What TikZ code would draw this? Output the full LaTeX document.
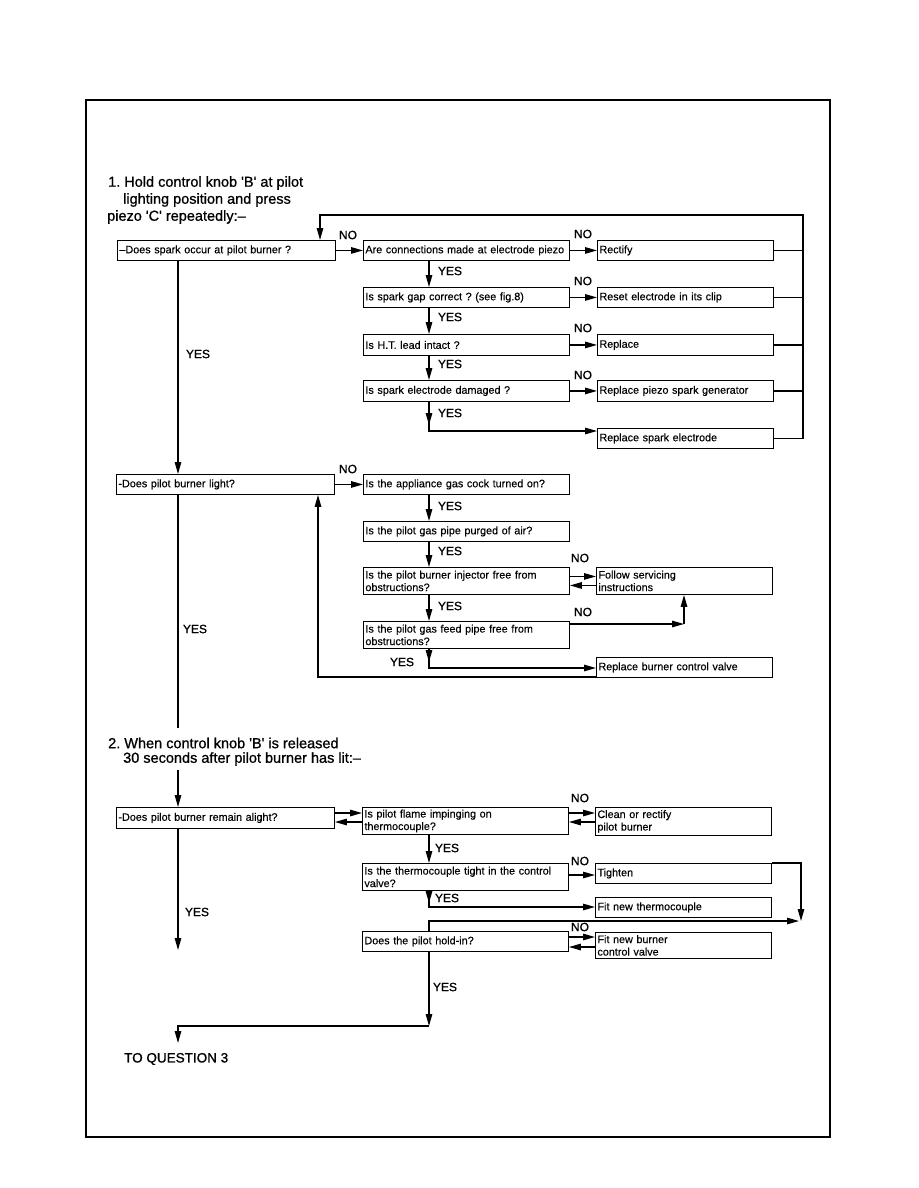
\documentclass[tikz,border=0pt]{standalone}
\usepackage{fontspec}
\setmainfont{Liberation Sans}
\newfontfamily\medfont{Liberation Sans}[FakeBold=0.9]
\newfontfamily\boxfont{Liberation Sans}[FakeBold=0.3]
\usetikzlibrary{arrows.meta}
\frenchspacing
\begin{document}
\begin{tikzpicture}[x=1pt,y=-1pt,
  box/.style={draw, line width=0.9pt, anchor=north west, inner xsep=2pt, inner ysep=0pt, align=left, font=\boxfont\fontsize{10.8}{12.5}\selectfont},
  wbox/.style={box, text width=214pt},
  mbox/.style={box, text width=202pt},
  rbox/.style={box, text width=172pt},
  conn/.style={line width=1.3pt},
  arr/.style={conn, -{Triangle[length=12pt,width=6.5pt]}},
  lab/.style={font=\medfont\fontsize{12}{14}\selectfont, inner sep=0pt},
  ttl/.style={font=\medfont\fontsize{14.5}{16}\selectfont, inner sep=0pt, anchor=west},
]
\useasboundingbox (0,0) rectangle (918,1188);
\draw[line width=1.1pt] (86,100) rectangle (830,1137);

% titles
\node[ttl] (t1a) at (108,183) {1. Hold control knob \textquotesingle B\textquotesingle{} at pilot};
\node[ttl] (t1b) at (123,200) {lighting position and press};
\node[ttl] (t1c) at (107,217) {piezo \textquotesingle C\textquotesingle{} repeatedly:\textendash};
\node[ttl] (t2a) at (108,743) {2. When control knob \textquotesingle B\textquotesingle{} is released};
\node[ttl] (t2b) at (123,759) {30 seconds after pilot burner has lit:\textendash};
\node[ttl, font=\medfont\fontsize{13.5}{15}\selectfont] (tq) at (124,1059) {TO QUESTION 3};

% boxes, part 1
\node[wbox, minimum height=20pt] (A) at (117,240) {\textendash Does spark occur at pilot burner ?};
\node[mbox, minimum height=20pt] (B1) at (363,240) {Are connections made at electrode piezo};
\node[rbox, minimum height=20pt] (R1) at (597,240) {Rectify};
\node[mbox, minimum height=20pt] (B2) at (363,287) {Is spark gap correct ? (see fig.8)};
\node[rbox, minimum height=20pt] (R2) at (597,287) {Reset electrode in its clip};
\node[mbox, minimum height=21pt] (B3) at (363,334) {Is H.T. lead intact ?};
\node[rbox, minimum height=21pt] (R3) at (597,334) {Replace};
\node[mbox, minimum height=21pt] (B4) at (363,380) {Is spark electrode damaged ?};
\node[rbox, minimum height=21pt] (R4) at (597,380) {Replace piezo spark generator};
\node[rbox, minimum height=20pt] (R5) at (597,428) {Replace spark electrode};

\node[wbox, minimum height=20pt] (C) at (116,474) {-Does pilot burner light?};
\node[mbox, minimum height=20pt] (D) at (363,474) {Is the appliance gas cock turned on?};
\node[mbox, minimum height=20pt] (E) at (363,521) {Is the pilot gas pipe purged of air?};
\node[mbox, minimum height=27pt] (F) at (363,567) {Is the pilot burner injector free from\\obstructions?};
\node[rbox, minimum height=27pt] (FS) at (596,567) {Follow servicing\\instructions};
\node[mbox, minimum height=27pt] (G) at (363,621) {Is the pilot gas feed pipe free from\\obstructions?};
\node[rbox, minimum height=20pt] (RV) at (596,657) {Replace burner control valve};

% boxes, part 2
\node[wbox, minimum height=21pt] (H) at (116,807) {-Does pilot burner remain alight?};
\node[mbox, minimum height=27pt] (I) at (362,807) {Is pilot flame impinging on\\thermocouple?};
\node[rbox, minimum height=28pt] (CR) at (595,807) {Clean or rectify\\pilot burner};
\node[mbox, minimum height=27pt] (J) at (362,863) {Is the thermocouple tight in the control\\valve?};
\node[rbox, minimum height=20pt] (T) at (595,863) {Tighten};
\node[rbox, minimum height=20pt] (FT) at (595,897) {Fit new thermocouple};
\node[mbox, minimum height=20pt] (K) at (362,931) {Does the pilot hold-in?};
\node[rbox, minimum height=26pt] (FB) at (595,932) {Fit new burner\\control valve};

% helper coordinates
\coordinate (lx) at (178,0);
\coordinate (cx) at (429,0);
\coordinate (bus) at (803,215);
\coordinate (loopA) at (320,215);

% part 1 connectors
\draw[arr] (R5.east) -| (bus) -- (loopA) -- (loopA |- A.north);
\draw[conn] (R1.east) -- (R1.east -| bus);
\draw[conn] (R2.east) -- (R2.east -| bus);
\draw[conn] (R3.east) -- (R3.east -| bus);
\draw[conn] (R4.east) -- (R4.east -| bus);

\draw[arr] (A.east) -- (B1.west);
\node[lab] (n1) at (348,235) {NO};
\draw[arr] (B1.east) -- (R1.west);
\node[lab] (n2) at (583,234) {NO};
\draw[arr] (B2.east) -- (R2.west);
\node[lab] (n3) at (583,281) {NO};
\draw[arr] (B3.east) -- (R3.west);
\node[lab] (n4) at (583,328) {NO};
\draw[arr] (B4.east) -- (R4.west);
\node[lab] (n5) at (583,375) {NO};

\draw[arr] (B1.south -| cx) -- (B2.north -| cx);
\node[lab] (y1) at (450,271) {YES};
\draw[arr] (B2.south -| cx) -- (B3.north -| cx);
\node[lab] (y2) at (450,317) {YES};
\draw[arr] (B3.south -| cx) -- (B4.north -| cx);
\node[lab] (y3) at (450,364) {YES};
\coordinate (m5) at (429,425);
\coordinate (t5) at (429,431);
\draw[arr] (B4.south -| cx) -- (m5);
\draw[arr] (B4.south -| cx) -- (t5) -- (t5 -| R5.west);
\node[lab] (y4) at (450,413) {YES};

\draw[arr] (A.south -| lx) -- (C.north -| lx);
\node[lab] (y5) at (198,354) {YES};

\draw[arr] (C.east) -- (D.west);
\node[lab] (n6) at (348,469) {NO};
\draw[arr] (D.south -| cx) -- (E.north -| cx);
\node[lab] (y6) at (450,506) {YES};
\draw[arr] (E.south -| cx) -- (F.north -| cx);
\node[lab] (y7) at (450,551) {YES};
\draw[arr] (F.south -| cx) -- (G.north -| cx);
\node[lab] (y8) at (450,606) {YES};

\draw[arr] ([yshift=4.5pt]F.east) -- ([yshift=4.5pt]F.east -| FS.west);
\draw[arr] ([yshift=-4.5pt]FS.west) -- ([yshift=-4.5pt]FS.west -| F.east);
\node[lab] (n7) at (580,558) {NO};

\coordinate (g1) at (684,624);
\draw[arr] (G.east |- g1) -- (g1);
\draw[arr] (g1) -- (g1 |- FS.south);
\node[lab] (n8) at (583,612) {NO};

\coordinate (g3) at (429,662);
\coordinate (g2) at (429,668);
\draw[arr] (G.south -| cx) -- (g3);
\draw[arr] (G.south -| cx) -- (g2) -- (g2 -| RV.west);
\node[lab] (y9) at (402,662) {YES};

\coordinate (lp) at (318,677);
\draw[arr] (lp -| RV.west) -- (lp) -- (lp |- C.south);

\coordinate (q2) at (178,728);
\draw[conn] (C.south -| lx) -- (q2);
\node[lab] (y10) at (195,629) {YES};

% part 2 connectors
\coordinate (q2b) at (178,770);
\draw[arr] (q2b) -- (H.north -| lx);

\coordinate (hi1) at (0,813);
\coordinate (hi2) at (0,822);
\draw[arr] (H.east |- hi1) -- (I.west |- hi1);
\draw[arr] (I.west |- hi2) -- (H.east |- hi2);
\draw[arr] (I.east |- hi1) -- (CR.west |- hi1);
\draw[arr] (CR.west |- hi2) -- (I.east |- hi2);
\node[lab] (n9) at (580,798) {NO};

\draw[arr] (I.south -| cx) -- (J.north -| cx);
\node[lab] (y11) at (447,848) {YES};

\coordinate (jt) at (0,875);
\draw[arr] (J.east |- jt) -- (T.west |- jt);
\node[lab] (n10) at (580,861) {NO};

\coordinate (tr) at (801,921);
\draw[arr] (T.north east) -- (T.north east -| tr) -- (tr);

\coordinate (j3) at (429,903);
\coordinate (j2) at (429,907);
\draw[arr] (J.south -| cx) -- (j3);
\draw[arr] (J.south -| cx) -- (j2) -- (j2 -| FT.west);
\node[lab] (y12) at (447,898) {YES};

\coordinate (k1) at (429,921);
\coordinate (k1e) at (799,921);
\draw[arr] (K.north -| cx) -- (k1) -- (k1e);

\coordinate (kf1) at (0,937);
\coordinate (kf2) at (0,947);
\draw[arr] (K.east |- kf1) -- (FB.west |- kf1);
\draw[arr] (FB.west |- kf2) -- (K.east |- kf2);
\node[lab] (n11) at (580,927) {NO};

\coordinate (k2) at (429,1026);
\coordinate (k3) at (178,1043);
\draw[arr] (K.south -| cx) -- (k2);
\draw[arr] (k2) -- (k2 -| k3) -- (k3);
\node[lab] (y13) at (445,987) {YES};

\coordinate (h2) at (178,950);
\draw[arr] (H.south -| lx) -- (h2);
\node[lab] (y14) at (197,912) {YES};
\end{tikzpicture}
\end{document}
